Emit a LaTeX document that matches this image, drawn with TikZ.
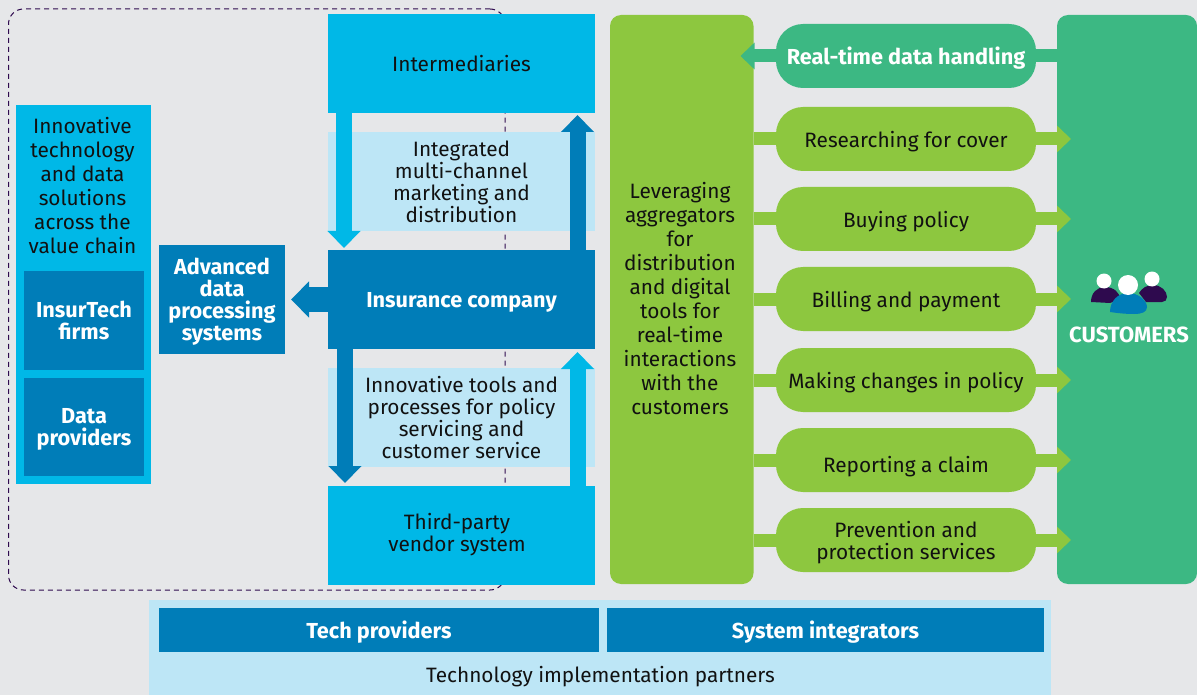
\documentclass[tikz,border=0pt]{standalone}
\usepackage{fontspec}
\setmainfont{Fira Sans}
\usetikzlibrary{arrows.meta}
\definecolor{bgc}{HTML}{E6E7E9}
\definecolor{cyanc}{HTML}{00B8E7}
\definecolor{bluec}{HTML}{007DB8}
\definecolor{palec}{HTML}{BDE6F6}
\definecolor{greenc}{HTML}{8DC73F}
\definecolor{tealc}{HTML}{3CB883}
\definecolor{purplec}{HTML}{2E0A4E}
\definecolor{inkc}{HTML}{111111}
\tikzset{
  x=1pt,y=-1pt,
  box/.style={inner sep=0pt,outer sep=0pt,align=center,text=inkc,font=\fontsize{20.8}{22}\selectfont},
  cyanbox/.style={box,fill=cyanc},
  paleband/.style={box,fill=palec},
  bluebox/.style={box,fill=bluec,text=white,text depth=0pt,font=\fontsize{21.7}{22}\selectfont\bfseries},
  pill/.style={box,fill=greenc,text depth=0pt,rounded corners=27pt,minimum width=260pt,minimum height=64pt},
  column/.style={box,rounded corners=11pt,minimum height=569pt},
  fatarrow/.style={line width=16pt,-{Triangle[length=17pt,width=32pt]}},
  rowarrow/.style={line width=13pt,-{Triangle[length=14pt,width=26pt]},draw=greenc},
  plainlabel/.style={inner sep=0pt,align=center,text=inkc,font=\fontsize{20.8}{22}\selectfont}
}
\begin{document}
\begin{tikzpicture}
\useasboundingbox (0,0) rectangle (1197,695);
\fill[bgc] (0,0) rectangle (1197,695);
% dashed scope
\node[draw=purplec,line width=1pt,dash pattern=on 5pt off 4pt,rounded corners=15pt,minimum width=496.5pt,minimum height=581pt,inner sep=0pt] (scopebox) at (256.75,299.5) {};
% left column
\node[box,fill=cyanc,minimum width=135pt,minimum height=379pt] (techcol) at (83.5,294.5) {};
\node[plainlabel,font=\fontsize{20.8}{24}\selectfont] (techlabel) at (82.5,186) {Innovative\\technology\\and data\\solutions\\across the\\value chain};
\node[bluebox,minimum width=120pt,minimum height=99pt] (insurtech) at (84,320.5) {InsurTech\\firms};
\node[bluebox,minimum width=120pt,minimum height=98pt] (dataprov) at (84,427) {Data\\providers};
\node[bluebox,minimum width=126pt,minimum height=109pt] (advanced) at (222,299.5) {Advanced\\data\\processing\\systems};
% centre stack
\node[paleband,minimum width=267pt,minimum height=99pt] (band1) at (461.5,181.5) {Integrated\\multi-channel\\marketing and\\distribution};
\node[paleband,minimum width=267pt,minimum height=99pt] (band2) at (461.5,417.5) {Innovative tools and\\processes for policy\\servicing and\\customer service};
\node[cyanbox,minimum width=267pt,minimum height=99pt] (intermed) at (461.5,63.5) {Intermediaries};
\node[bluebox,minimum width=267pt,minimum height=99pt] (insurer) at (461.5,299.5) {Insurance company};
\node[cyanbox,minimum width=267pt,minimum height=99pt] (vendor) at (461.5,535.5) {};
\node[plainlabel] (vendorlabel) at (457,535) {Third-party\\vendor system};
% centre arrows
\draw[fatarrow,draw=cyanc,shorten >=2pt] ([xshift=-117.5pt]intermed.south) -- ([xshift=-117.5pt]insurer.north);
\draw[fatarrow,draw=bluec,shorten >=2pt] ([xshift=116pt]insurer.north) -- ([xshift=116pt]intermed.south);
\draw[fatarrow,draw=bluec,shorten >=3pt] ([xshift=-116.5pt]insurer.south) -- ([xshift=-116.5pt]vendor.north);
\draw[fatarrow,draw=cyanc,shorten >=3pt] ([xshift=116pt]vendor.north) -- ([xshift=116pt]insurer.south);
\draw[line width=25pt,draw=bluec,-{Triangle[length=18pt,width=35pt]},shorten >=6pt] (insurer.west) -- (advanced.east);
% bottom strip
\node[box,fill=palec,minimum width=902pt,minimum height=95pt] (partners) at (600,647.5) {};
\node[plainlabel] (partnerslabel) at (600.5,677) {Technology implementation partners};
\node[bluebox,minimum width=440pt,minimum height=44pt] (techprov) at (379,630) {Tech providers};
\node[bluebox,minimum width=437pt,minimum height=44pt] (sysint) at (825.5,630) {System integrators};
% right columns
\node[column,fill=greenc,minimum width=143.5pt] (aggr) at (681.75,299.5) {};
\node[plainlabel,font=\fontsize{20.8}{24}\selectfont] (aggrlabel) at (680,299) {Leveraging\\aggregators\\for\\distribution\\and digital\\tools for\\real-time\\interactions\\with the\\customers};
\node[column,fill=tealc,minimum width=140pt] (customers) at (1127,299.5) {};
\coordinate (p0) at (906,56);
\coordinate (p1) at (906,139);
\coordinate (p2) at (906,219);
\coordinate (p3) at (906,299);
\coordinate (p4) at (906,380);
\coordinate (p5) at (906,460);
\coordinate (p6) at (906,540);
\draw[rowarrow,draw=tealc,shorten >=-13pt] (customers.west |- p0) -- (aggr.east |- p0);
\foreach \r in {p1,p2,p3,p4,p5,p6}
  \draw[rowarrow,shorten >=-14pt] (aggr.east |- \r) -- (customers.west |- \r);
\node[pill,fill=tealc,text=white,font=\fontsize{21.7}{22}\selectfont\bfseries] (n0) at (p0) {Real-time data handling};
\node[pill] (n1) at (p1) {Researching for cover};
\node[pill] (n2) at (p2) {Buying policy};
\node[pill] (n3) at (p3) {Billing and payment};
\node[pill] (n4) at (p4) {Making changes in policy};
\node[pill] (n5) at (p5) {};
\node[plainlabel] (n5label) at (906,467) {Reporting a claim};
\node[pill] (n6) at (p6) {Prevention and\\protection services};
% icon
\fill[purplec] (1091,302) .. controls (1091,293) and (1097,287) .. (1105,287) .. controls (1114,287) and (1120,293) .. (1120,299) -- (1110,303) -- cycle;
\fill[purplec] (1139,293) .. controls (1142,288) and (1147,285) .. (1153,285) .. controls (1161,285) and (1167,291) .. (1167,297) .. controls (1167,300) and (1165,302) .. (1162,302) -- (1146,302) -- cycle;
\fill[bluec] (1110,312) .. controls (1110,301) and (1118,293) .. (1128,293) .. controls (1139,293) and (1147,301) .. (1147,307) .. controls (1147,312) and (1142,314) .. (1134,314) .. controls (1125,314) and (1117,313) .. (1110,312) -- cycle;
\fill[white] (1104,281) circle[radius=7.5pt];
\fill[white] (1152,279) circle[radius=7.5pt];
\fill[white] (1128,285) circle[radius=10pt];
\node[plainlabel,text=white,font=\fontsize{22}{22}\selectfont\bfseries] (customerslabel) at (1129,335) {CUSTOMERS};
\end{tikzpicture}
\end{document}
